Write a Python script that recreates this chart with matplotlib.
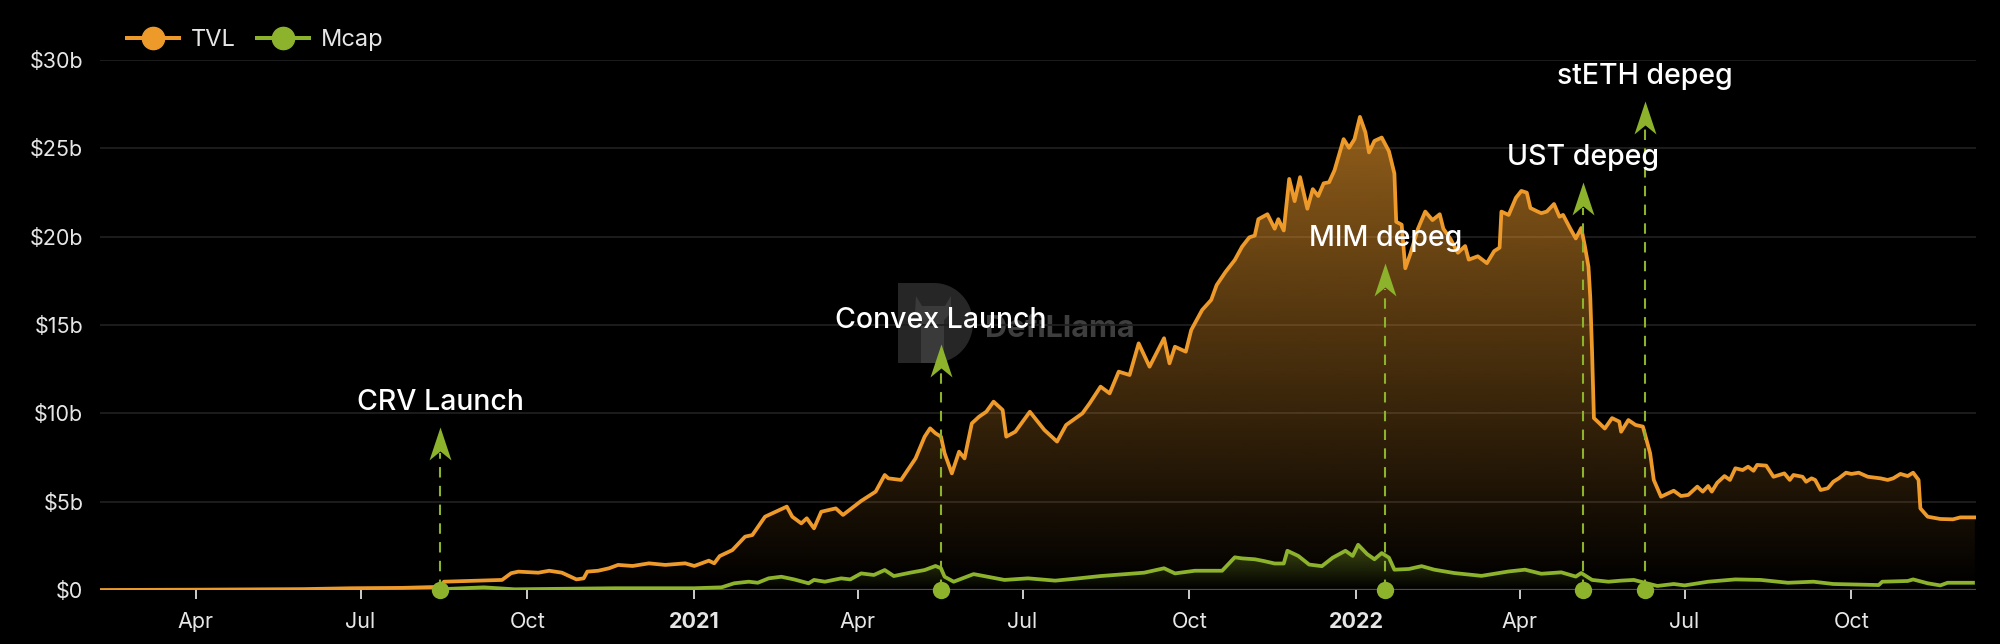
import numpy as np
import pandas as pd
import matplotlib
matplotlib.use("Agg")
import matplotlib.pyplot as plt
import matplotlib.dates as mdates
import matplotlib.colors as mcolors
from matplotlib.path import Path
from matplotlib.patches import PathPatch, Polygon, Rectangle
from matplotlib.lines import Line2D

# ---------------- data (values in $ billions) ----------------
tvl_dates = [
    "2020-02-09", "2020-04-04", "2020-05-30", "2020-06-26", "2020-07-24", "2020-08-11",
    "2020-08-14", "2020-08-16", "2020-09-17", "2020-09-22", "2020-09-26", "2020-10-07",
    "2020-10-13", "2020-10-20", "2020-10-28", "2020-11-01", "2020-11-03", "2020-11-09",
    "2020-11-15", "2020-11-20", "2020-11-28", "2020-12-07", "2020-12-16", "2020-12-27",
    "2021-01-01", "2021-01-09", "2021-01-12", "2021-01-15", "2021-01-22", "2021-01-29",
    "2021-02-02", "2021-02-09", "2021-02-13", "2021-02-21", "2021-02-24", "2021-03-01",
    "2021-03-04", "2021-03-08", "2021-03-12", "2021-03-20", "2021-03-24", "2021-04-03",
    "2021-04-11", "2021-04-16", "2021-04-18", "2021-04-25", "2021-05-03", "2021-05-08",
    "2021-05-11", "2021-05-14", "2021-05-17", "2021-05-19", "2021-05-23", "2021-05-27",
    "2021-05-30", "2021-06-03", "2021-06-07", "2021-06-11", "2021-06-15", "2021-06-20",
    "2021-06-22", "2021-06-27", "2021-07-05", "2021-07-13", "2021-07-20", "2021-07-25",
    "2021-08-03", "2021-08-07", "2021-08-13", "2021-08-18", "2021-08-23", "2021-08-29",
    "2021-09-03", "2021-09-09", "2021-09-17", "2021-09-20", "2021-09-23", "2021-09-29",
    "2021-10-02", "2021-10-08", "2021-10-13", "2021-10-16", "2021-10-21", "2021-10-26",
    "2021-10-30", "2021-11-03", "2021-11-06", "2021-11-08", "2021-11-13", "2021-11-17",
    "2021-11-19", "2021-11-22", "2021-11-25", "2021-11-28", "2021-12-01", "2021-12-05",
    "2021-12-08", "2021-12-11", "2021-12-14", "2021-12-17", "2021-12-20", "2021-12-25",
    "2021-12-28", "2021-12-31", "2022-01-03", "2022-01-06", "2022-01-08", "2022-01-11",
    "2022-01-15", "2022-01-19", "2022-01-22", "2022-01-23", "2022-01-26", "2022-01-28",
    "2022-01-31", "2022-02-04", "2022-02-08", "2022-02-12", "2022-02-16", "2022-02-18",
    "2022-02-22", "2022-02-26", "2022-03-02", "2022-03-04", "2022-03-09", "2022-03-14",
    "2022-03-18", "2022-03-21", "2022-03-22", "2022-03-26", "2022-03-30", "2022-04-02",
    "2022-04-05", "2022-04-07", "2022-04-11", "2022-04-13", "2022-04-16", "2022-04-20",
    "2022-04-23", "2022-04-25", "2022-04-29", "2022-05-02", "2022-05-05", "2022-05-07",
    "2022-05-09", "2022-05-10", "2022-05-11", "2022-05-12", "2022-05-15", "2022-05-18",
    "2022-05-22", "2022-05-26", "2022-05-27", "2022-05-31", "2022-06-04", "2022-06-08",
    "2022-06-12", "2022-06-14", "2022-06-18", "2022-06-25", "2022-06-29", "2022-07-03",
    "2022-07-08", "2022-07-11", "2022-07-14", "2022-07-16", "2022-07-19", "2022-07-23",
    "2022-07-26", "2022-07-29", "2022-08-02", "2022-08-05", "2022-08-08", "2022-08-10",
    "2022-08-15", "2022-08-19", "2022-08-25", "2022-08-28", "2022-08-30", "2022-09-04",
    "2022-09-06", "2022-09-09", "2022-09-11", "2022-09-14", "2022-09-18", "2022-09-21",
    "2022-09-24", "2022-09-28", "2022-10-01", "2022-10-05", "2022-10-10", "2022-10-17",
    "2022-10-21", "2022-10-24", "2022-10-28", "2022-11-01", "2022-11-04", "2022-11-07",
    "2022-11-08", "2022-11-12", "2022-11-19", "2022-11-26", "2022-11-30", "2022-12-08",
]
tvl_values = [
    0.00, 0.02, 0.05, 0.10, 0.12, 0.17,
    0.22, 0.47, 0.57, 0.95, 1.04, 0.98,
    1.09, 0.98, 0.60, 0.66, 1.04, 1.09,
    1.23, 1.42, 1.36, 1.51, 1.42, 1.51,
    1.36, 1.66, 1.51, 1.92, 2.26, 3.02,
    3.11, 4.15, 4.34, 4.72, 4.15, 3.77,
    4.06, 3.49, 4.43, 4.62, 4.25, 5.04,
    5.57, 6.51, 6.32, 6.23, 7.45, 8.68,
    9.15, 8.87, 8.68, 7.74, 6.60, 7.83,
    7.45, 9.43, 9.81, 10.09, 10.66, 10.19,
    8.68, 8.96, 10.09, 9.06, 8.40, 9.34,
    10.00, 10.57, 11.51, 11.13, 12.36, 12.17,
    13.96, 12.64, 14.25, 12.83, 13.77, 13.49,
    14.72, 15.85, 16.42, 17.26, 18.02, 18.68,
    19.43, 19.96, 20.06, 20.99, 21.27, 20.45,
    20.99, 20.35, 23.27, 22.01, 23.37, 21.58,
    22.69, 22.30, 23.02, 23.08, 23.76, 25.52,
    25.03, 25.52, 26.78, 25.91, 24.77, 25.42,
    25.61, 24.83, 23.57, 20.84, 20.68, 18.21,
    19.09, 20.45, 21.42, 20.94, 21.27, 20.45,
    19.86, 19.09, 19.47, 18.70, 18.89, 18.50,
    19.18, 19.38, 21.42, 21.23, 22.20, 22.59,
    22.49, 21.62, 21.42, 21.33, 21.42, 21.85,
    21.13, 21.23, 20.45, 19.90, 20.49, 19.47,
    18.30, 16.55, 13.43, 9.73, 9.44, 9.14,
    9.73, 9.53, 8.96, 9.62, 9.34, 9.25,
    7.74, 6.23, 5.28, 5.62, 5.32, 5.38,
    5.85, 5.57, 5.89, 5.57, 6.07, 6.45,
    6.23, 6.89, 6.79, 6.98, 6.75, 7.08,
    7.04, 6.41, 6.60, 6.23, 6.51, 6.41,
    6.13, 6.32, 6.23, 5.66, 5.76, 6.13,
    6.32, 6.64, 6.57, 6.64, 6.41, 6.32,
    6.23, 6.32, 6.57, 6.45, 6.64, 6.23,
    4.62, 4.15, 4.02, 4.00, 4.11, 4.11,
]

mcap_dates = [
    "2020-08-15", "2020-09-07", "2020-09-24", "2020-11-18", "2021-01-01", "2021-01-16",
    "2021-01-23", "2021-01-31", "2021-02-05", "2021-02-11", "2021-02-18", "2021-02-25",
    "2021-03-05", "2021-03-08", "2021-03-14", "2021-03-23", "2021-03-28", "2021-04-03",
    "2021-04-10", "2021-04-16", "2021-04-21", "2021-04-30", "2021-05-08", "2021-05-14",
    "2021-05-17", "2021-05-19", "2021-05-24", "2021-06-04", "2021-06-21", "2021-07-04",
    "2021-07-19", "2021-08-01", "2021-08-13", "2021-09-06", "2021-09-17", "2021-09-23",
    "2021-10-04", "2021-10-19", "2021-10-26", "2021-10-30", "2021-11-06", "2021-11-11",
    "2021-11-17", "2021-11-22", "2021-11-24", "2021-11-30", "2021-12-06", "2021-12-13",
    "2021-12-19", "2021-12-26", "2021-12-30", "2022-01-02", "2022-01-07", "2022-01-11",
    "2022-01-15", "2022-01-19", "2022-01-22", "2022-01-30", "2022-02-06", "2022-02-13",
    "2022-02-24", "2022-03-11", "2022-03-26", "2022-04-04", "2022-04-13", "2022-04-24",
    "2022-05-02", "2022-05-05", "2022-05-11", "2022-05-20", "2022-05-27", "2022-06-03",
    "2022-06-09", "2022-06-16", "2022-06-25", "2022-07-01", "2022-07-14", "2022-07-29",
    "2022-08-12", "2022-08-27", "2022-09-10", "2022-09-21", "2022-10-16", "2022-10-18",
    "2022-11-01", "2022-11-04", "2022-11-12", "2022-11-19", "2022-11-23", "2022-12-07",
]
mcap_values = [
    0.05, 0.15, 0.04, 0.10, 0.10, 0.15,
    0.38, 0.47, 0.41, 0.66, 0.75, 0.60,
    0.38, 0.57, 0.47, 0.66, 0.60, 0.94,
    0.85, 1.13, 0.79, 0.98, 1.13, 1.36,
    1.23, 0.75, 0.47, 0.90, 0.57, 0.66,
    0.53, 0.66, 0.79, 0.98, 1.23, 0.94,
    1.09, 1.09, 1.85, 1.79, 1.74, 1.64,
    1.50, 1.50, 2.22, 1.93, 1.44, 1.35,
    1.83, 2.22, 1.93, 2.56, 2.03, 1.74,
    2.09, 1.83, 1.15, 1.19, 1.35, 1.15,
    0.96, 0.80, 1.05, 1.15, 0.92, 1.00,
    0.76, 0.96, 0.57, 0.47, 0.53, 0.57,
    0.41, 0.23, 0.34, 0.26, 0.47, 0.60,
    0.57, 0.41, 0.47, 0.34, 0.28, 0.47,
    0.51, 0.60, 0.38, 0.26, 0.41, 0.41,
]

event_labels = ["CRV Launch", "Convex Launch", "MIM depeg", "UST depeg", "stETH depeg"]
event_dates = ["2020-08-14", "2021-05-17", "2022-01-17", "2022-05-06", "2022-06-09"]

y_ticks = [0, 5, 10, 15, 20, 25, 30]
y_tick_labels = ["$0", "$5b", "$10b", "$15b", "$20b", "$25b", "$30b"]
x_tick_dates = ["2020-04-01", "2020-07-01", "2020-10-01", "2021-01-01", "2021-04-01",
                "2021-07-01", "2021-10-01", "2022-01-01", "2022-04-01", "2022-07-01",
                "2022-10-01"]
x_tick_labels = ["Apr", "Jul", "Oct", "2021", "Apr", "Jul", "Oct", "2022", "Apr", "Jul", "Oct"]

# ---------------- layout / style ----------------
arrow_tip_levels = [9.25, 13.9, 18.5, 23.1, 27.7]   # annotation layout ($b on the axis)
TVL_COLOR = "#EE9A2B"
MCAP_COLOR = "#8DB32D"
BG = "#000000"
TXT = "#E6E6E6"

plt.rcParams["font.family"] = ["Inter", "DejaVu Sans"]

W, H = 2000, 644
fig = plt.figure(figsize=(20, 6.44), dpi=100, facecolor=BG)
ax = fig.add_axes([100 / W, 1 - 590 / H, 1876 / W, 530 / H])
ax.set_zorder(2)
ax.patch.set_alpha(0)

tvl_x = mdates.date2num(pd.to_datetime(tvl_dates))
mcap_x = mdates.date2num(pd.to_datetime(mcap_dates))
tvl_y = np.array(tvl_values)
mcap_y = np.array(mcap_values)

# invisible plot to register the date converter
ax.plot(pd.to_datetime(tvl_dates), tvl_y, alpha=0)


def gradient_fill(x, y, color, alpha_top, z):
    verts = [(x[0], 0)] + list(zip(x, y)) + [(x[-1], 0), (x[0], 0)]
    codes = [Path.MOVETO] + [Path.LINETO] * (len(verts) - 2) + [Path.CLOSEPOLY]
    patch = PathPatch(Path(verts, codes), facecolor="none", edgecolor="none")
    ax.add_patch(patch)
    n = 256
    img = np.zeros((n, 1, 4))
    img[:, 0, :3] = mcolors.to_rgb(color)
    img[:, 0, 3] = np.linspace(0, 1, n) * alpha_top
    im = ax.imshow(img, aspect="auto", origin="lower",
                   extent=[x[0], x[-1], 0, max(y)], zorder=z, interpolation="bilinear")
    im.set_clip_path(patch)


gradient_fill(tvl_x, tvl_y, TVL_COLOR, 0.62, 1)
gradient_fill(mcap_x, mcap_y, MCAP_COLOR, 0.38, 1.5)

# grid
for yt in y_ticks[1:]:
    ax.axhline(yt, color="#1F1F1F", lw=1.3, zorder=0)
ax.axhline(0, color="#4D4D4D", lw=1.6, zorder=0.5)

ax.plot(tvl_x, tvl_y, color=TVL_COLOR, lw=2.7, zorder=3, solid_joinstyle="round")
ax.plot(mcap_x, mcap_y, color=MCAP_COLOR, lw=2.7, zorder=3.5, solid_joinstyle="round")

# arrow head marker (tip at origin)
head = Path([(0, 0), (-11, -33), (0, -24), (11, -33), (0, 0)],
            [Path.MOVETO, Path.LINETO, Path.LINETO, Path.LINETO, Path.CLOSEPOLY])

px_per_b = 530 / 30.0
for lab, d, tip in zip(event_labels, event_dates, arrow_tip_levels):
    xd = mdates.date2num(pd.Timestamp(d))
    ax.plot([xd, xd], [0, tip - 26 / px_per_b], color=MCAP_COLOR, lw=1.5,
            dashes=(5, 4), zorder=4)
    ax.plot([xd], [tip], marker=head, markersize=47.5, color=MCAP_COLOR,
            markeredgewidth=0, zorder=5)
    ax.plot([xd], [0], marker="o", markersize=12.5, color=MCAP_COLOR,
            markeredgewidth=0, zorder=6, clip_on=False)
    ax.text(xd, tip + 0.95, lab, ha="center", va="baseline", color="white",
            fontsize=20.5, fontweight="medium", zorder=7)

# watermark (D-shaped logo + name) behind the plot, drawn in figure pixels
def fpx(x, y):
    return (x / W, 1 - y / H)

logo_col = "#262626"
fig.patches.append(Rectangle(fpx(898, 363), 36 / W, 80 / H, transform=fig.transFigure,
                             facecolor=logo_col, edgecolor="none", zorder=0.1))
fig.patches.append(Polygon(
    [fpx(*p) for p in [(934 + 39 * np.cos(t), 323 - 40 * np.sin(t))
                       for t in np.linspace(-np.pi / 2, np.pi / 2, 40)]],
    closed=True, transform=fig.transFigure, facecolor=logo_col, edgecolor="none", zorder=0.1))
fig.patches.append(Polygon(
    [fpx(*p) for p in [(916, 296), (922, 306), (945, 306), (951, 296), (951, 313),
                       (944, 320), (944, 363), (921, 363), (921, 320), (915, 313)]],
    closed=True, transform=fig.transFigure, facecolor="#3A3A3A", edgecolor="none", zorder=0.2))
fig.text(985 / W, 1 - 337 / H, "DefiLlama", color="#3E3E3E", fontsize=22,
         fontweight="bold", ha="left", va="baseline", zorder=0.3)

# axes formatting
ax.set_xlim(mdates.date2num(pd.Timestamp("2020-02-08 08:00")),
            mdates.date2num(pd.Timestamp("2022-12-08 16:00")))
ax.set_ylim(0, 30)
for s in ax.spines.values():
    s.set_visible(False)

ax.set_yticks(y_ticks)
ax.set_yticklabels(y_tick_labels)
ax.tick_params(axis="y", length=0, pad=12, labelsize=15.5, labelcolor=TXT)

ax.set_xticks(mdates.date2num(pd.to_datetime(x_tick_dates)))
ax.set_xticklabels(x_tick_labels)
ax.tick_params(axis="x", length=6.5, width=1.3, color="#DDDDDD", pad=9,
               labelsize=15.5, labelcolor=TXT, direction="out")
for t in ax.get_xticklabels():
    if t.get_text() in ("2021", "2022"):
        t.set_fontweight("bold")

# legend
handles = [
    Line2D([0], [0], color=TVL_COLOR, lw=2.9, marker="o", markersize=16),
    Line2D([0], [0], color=MCAP_COLOR, lw=2.9, marker="o", markersize=16),
]
leg = fig.legend(handles, ["TVL", "Mcap"], loc="center left",
                 bbox_to_anchor=(127 / W, 1 - 40 / H), frameon=False, ncol=2,
                 fontsize=17, handlelength=2.2, handletextpad=0.5, columnspacing=0.9,
                 borderpad=0, borderaxespad=0)
for t in leg.get_texts():
    t.set_color(TXT)

fig.savefig("out.png", dpi=100, facecolor=BG)
